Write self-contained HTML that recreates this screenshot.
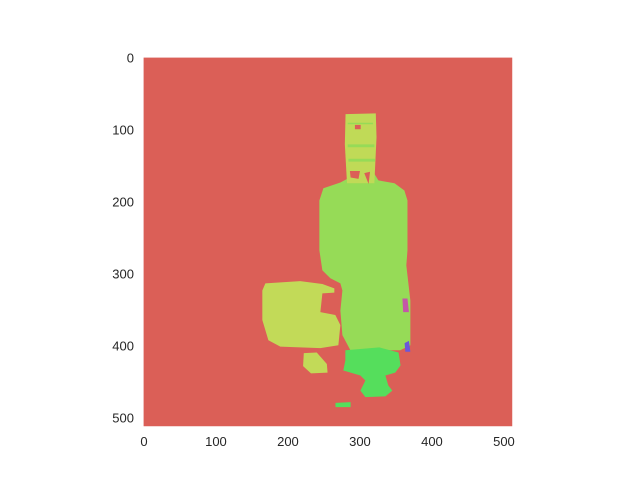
<!DOCTYPE html>
<html><head><meta charset="utf-8"><style>
body{margin:0;background:#fff;}
svg text{font-family:"Liberation Sans","DejaVu Sans",sans-serif;font-size:13px;fill:#262626;}
</style></head><body>
<svg id="chart" width="640" height="480" xmlns="http://www.w3.org/2000/svg">
<g id="img"></g>
<g id="xt"></g>
<g id="yt"></g>
</svg>
<script>
const xTicks=[0,100,200,300,400,500];
const yTicks=[0,100,200,300,400,500];
const imgSize=[512,512];
const bgColor="#db5f57";
const bottleBody=[[286.7,156],[317,156],[325.6,170],[348,174],[361.7,184],[366,198],[366,267],[364.4,288],[370,337],[370,399],[356,406],[286.7,406],[275.6,385],[272.8,351],[275.6,323],[272.8,313],[258.9,306],[247.8,295],[243.6,267],[243.6,198],[249.2,181],[272.8,173],[283.9,167]];
const neck=[[280,78],[322,77],[323,110],[320,174],[282,174],[279,120]];
const neckStripes=[[[283,120],[320,124]],[[284,140],[321,144]],[[283,90],[318,92]]];
const neckHoles=[[[286,157],[300,157],[298,168],[287,166]],[[306,160],[314,158],[312,175]],[[293,93],[301,93],[301,99],[293,99]]];
const cup=[[164.4,323],[168.6,313],[217,310],[247.8,314],[264.4,320],[264.4,326],[247.8,327],[245,353],[265.8,357],[272.8,371],[270,399],[245,403],[217,402],[189.4,401],[172.8,392],[164.4,364]];
const cupBit=[[222,410],[240,409],[254,425],[255,437],[232,438],[221,428]];
const foot=[[279.7,406],[327,402],[353.6,409],[356.4,427],[349,437],[335.3,441],[339.4,455],[345,462],[335.3,470],[307.5,471],[300.6,462],[307.5,448],[300.6,441],[276.9,434],[279.7,420]];
const footBlob=[[266,479],[287,478],[287,485],[266,485]];
const magenta=[[359,334],[366,334],[368,353],[360,353]];
const purple=[[362,396],[368,393],[370,408],[363,408]];
const X0=143.6,Y0=57.6,S=0.72;
const sx=v=>X0+(v+0.5)*S, sy=v=>Y0+(v+0.5)*S;
const NS="http://www.w3.org/2000/svg";
const g=document.getElementById('img');
const r=document.createElementNS(NS,'rect');


r.setAttribute('x',sx(-0.5));r.setAttribute('y',sy(-0.5));
r.setAttribute('width',imgSize[0]*S);r.setAttribute('height',imgSize[1]*S);
r.setAttribute('fill',bgColor);g.appendChild(r);
function poly(pts,fill,name){const p=document.createElementNS(NS,'polygon');


p.setAttribute('points',pts.map(q=>sx(q[0])+','+sy(q[1])).join(' '));p.setAttribute('fill',fill);g.appendChild(p);}
poly(bottleBody,"#96db57","bottle-region");
poly(neck,"#c0da57","bottle-neck-region");
neckStripes.forEach(s=>poly([[s[0][0],s[0][1]],[s[1][0],s[0][1]],[s[1][0],s[1][1]],[s[0][0],s[1][1]]],"#96db57","neck-stripe"));
neckHoles.forEach(h=>poly(h,bgColor,"neck-hole"));
poly(cup,"#c2da58","cup-region");
poly(cupBit,"#c2da58","cup-fragment");
poly(foot,"#55de5c","glass-foot-region");
poly(footBlob,"#55de5c","foot-fragment");
poly(magenta,"#c457a8","magenta-spot");
poly(purple,"#6a57db","purple-spot");
const xt=document.getElementById('xt');
xTicks.forEach(t=>{const e=document.createElementNS(NS,'text');


e.setAttribute('x',sx(t));e.setAttribute('y',446);e.setAttribute('text-anchor','middle');e.textContent=t;xt.appendChild(e);});
const yt=document.getElementById('yt');
yTicks.forEach(t=>{const e=document.createElementNS(NS,'text');


e.setAttribute('x',134);e.setAttribute('y',sy(t)+4.5);e.setAttribute('text-anchor','end');e.textContent=t;yt.appendChild(e);});
</script>
</body></html>
